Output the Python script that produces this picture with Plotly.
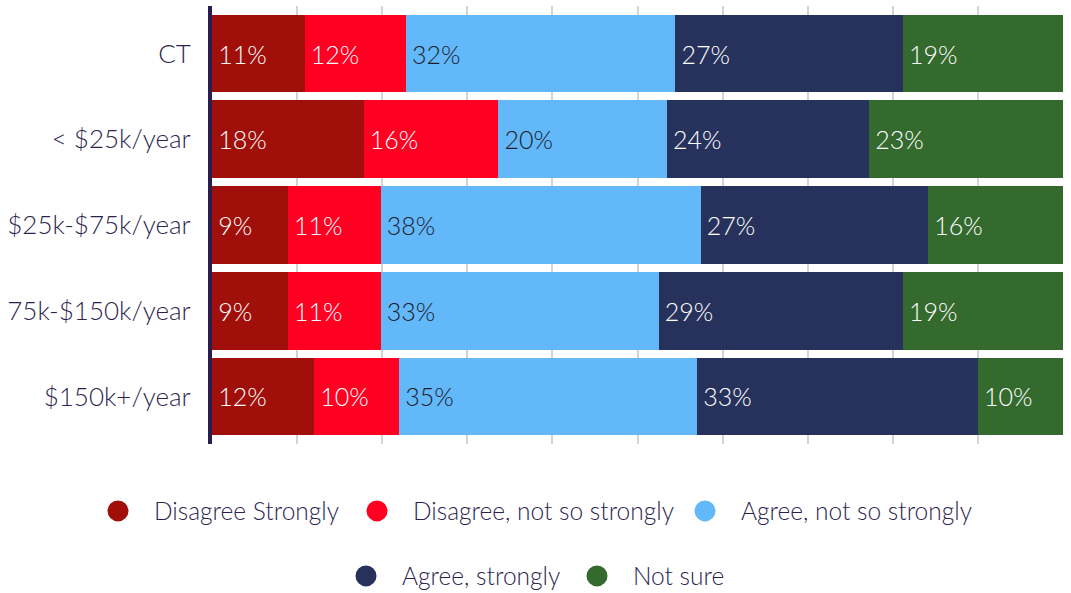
import plotly.graph_objects as go

categories = ["CT", "< $25k/year", "$25k-$75k/year", "75k-$150k/year", "$150k+/year"]
series_names = ["Disagree Strongly", "Disagree, not so strongly", "Agree, not so strongly",
                "Agree, strongly", "Not sure"]
disagree_strongly = [11, 18, 9, 9, 12]
disagree_not_so = [12, 16, 11, 11, 10]
agree_not_so = [32, 20, 38, 33, 35]
agree_strongly = [27, 24, 27, 29, 33]
not_sure = [19, 23, 16, 19, 10]

colors = ["#a10f0b", "#ff0022", "#63b8f9", "#27325c", "#356a2e"]
text_colors = ["#ffffff", "#ffffff", "#1c1c2a", "#ffffff", "#ffffff"]

# legend entry placement (left edge of legend text, row centre), in page pixels
legend_text_x = [154, 413, 741, 402, 633]
legend_row_y = [511, 511, 511, 576, 576]

series = [disagree_strongly, disagree_not_so, agree_not_so, agree_strongly, not_sure]
row_totals = [sum(vals) for vals in zip(*series)]

W, H = 1071, 593
FONT = "Lato"
LABEL_COLOR = "#2e1f4f"
ITEM_W = 62

fig = go.Figure()
for name, vals, col, tcol in zip(series_names, series, colors, text_colors):
    shares = [v / t * 100 for v, t in zip(vals, row_totals)]
    fig.add_trace(go.Bar(
        y=categories, x=shares, orientation="h", name=name,
        marker=dict(color=col, line=dict(width=0)),
        text=[f"\u2009{v}%" for v in vals], textposition="inside",
        insidetextanchor="start", textangle=0, constraintext="none",
        textfont=dict(family=FONT, size=25, color=tcol, weight=300),
        showlegend=False, hoverinfo="skip",
    ))

legends = {}
for i, (name, col, tx, ty) in enumerate(zip(series_names, colors, legend_text_x, legend_row_y)):
    lid = "legend" if i == 0 else f"legend{i + 1}"
    fig.add_trace(go.Scatter(
        x=[None], y=[None], mode="markers", name=name, legend=lid,
        marker=dict(symbol="circle", size=16, color=col, line=dict(color=col, width=5)),
        showlegend=True,
    ))
    legends[lid] = dict(
        orientation="h", xref="container", xanchor="left", x=(tx - ITEM_W - 10) / W,
        yref="container", yanchor="middle", y=1 - ty / H, itemwidth=ITEM_W,
        font=dict(family=FONT, size=24.5, color=LABEL_COLOR, weight=300),
        bgcolor="rgba(0,0,0,0)", borderwidth=0, itemclick=False, itemdoubleclick=False,
    )

fig.update_layout(
    width=W, height=H,
    margin=dict(l=212, r=8, t=6, b=149, autoexpand=False),
    barmode="stack", bargap=0.094,
    plot_bgcolor="white", paper_bgcolor="white",
    xaxis=dict(range=[0, 100], dtick=10, showgrid=True, gridcolor="#d4d3da", gridwidth=2,
               showticklabels=False, zeroline=False, showline=False, fixedrange=True),
    yaxis=dict(categoryorder="array", categoryarray=categories,
               range=[4.554, -0.554], showgrid=False, zeroline=False,
               showline=True, linecolor="#2b1d4e", linewidth=4,
               ticks="", ticklabelstandoff=12,
               tickfont=dict(family=FONT, size=26, color=LABEL_COLOR, weight=300),
               fixedrange=True),
    **legends,
)

fig.write_html("out.html", config={"displayModeBar": False},
               post_script="document.body.style.margin='0';document.body.style.overflow='hidden';")
